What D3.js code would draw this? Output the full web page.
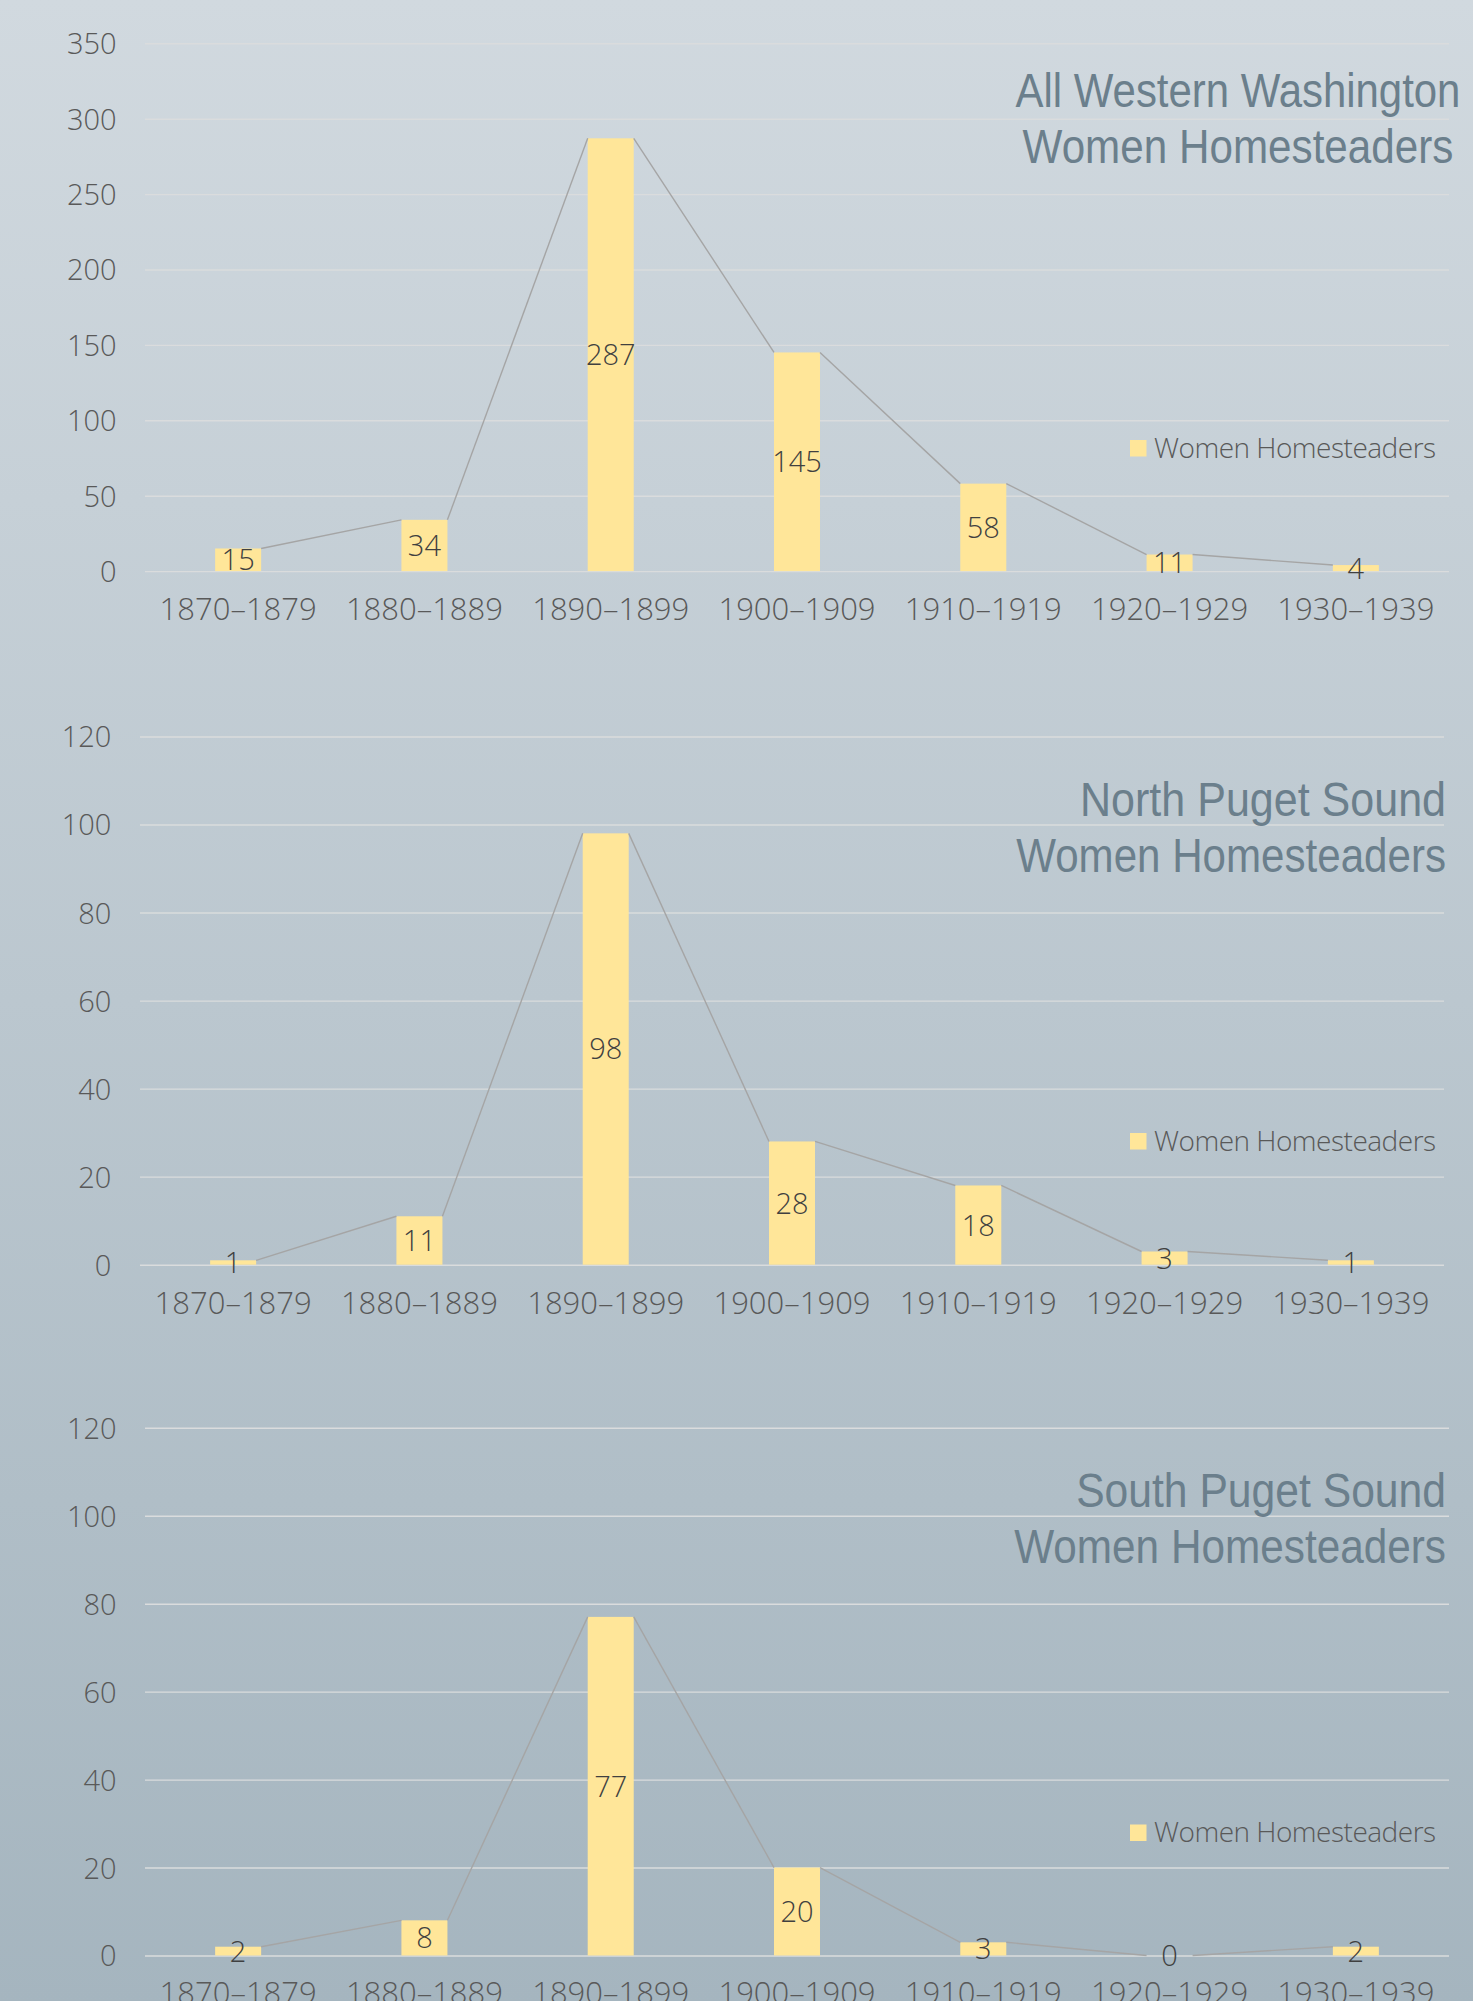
<!DOCTYPE html>
<html>
<head>
<meta charset="utf-8">
<script src="https://cdn.jsdelivr.net/npm/d3@7"></script>
<style>
  html, body { margin: 0; padding: 0; }
  body { width: 1473px; height: 2001px; overflow: hidden; }
  svg { display: block; }
</style>
</head>
<body>
<svg id="chart" width="1473" height="2001"></svg>
<script>
// ---- data ----
const categories = ["1870–1879", "1880–1889", "1890–1899", "1900–1909", "1910–1919", "1920–1929", "1930–1939"];
const allWesternValues = [15, 34, 287, 145, 58, 11, 4];
const northPugetValues = [1, 11, 98, 28, 18, 3, 1];
const southPugetValues = [2, 8, 77, 20, 3, 0, 2];
const allWesternTicks = [0, 50, 100, 150, 200, 250, 300, 350];
const northPugetTicks = [0, 20, 40, 60, 80, 100, 120];
const southPugetTicks = [0, 20, 40, 60, 80, 100, 120];
const allWesternTitle = ["All Western Washington", "Women Homesteaders"];
const northPugetTitle = ["North Puget Sound", "Women Homesteaders"];
const southPugetTitle = ["South Puget Sound", "Women Homesteaders"];
const seriesName = "Women Homesteaders";

// ---- layout ----
const panels = [
  { values: allWesternValues, ticks: allWesternTicks, title: allWesternTitle,
    x0: 145, x1: 1449, yBottom: 571.1, yTop: 43.3, tickRight: 116.6, catBase: 619.5,
    titleAnchor: "middle", titleX: 1238, titleBase: [107, 163], titleW: [445, 431],
    legY: 440, legBase: 458 },
  { values: northPugetValues, ticks: northPugetTicks, title: northPugetTitle,
    x0: 140, x1: 1444, yBottom: 1264.7, yTop: 736.5, tickRight: 111.4, catBase: 1313.6,
    titleAnchor: "end", titleX: 1446, titleBase: [816, 872], titleW: [366, 430],
    legY: 1133, legBase: 1151 },
  { values: southPugetValues, ticks: southPugetTicks, title: southPugetTitle,
    x0: 145, x1: 1449, yBottom: 1955.5, yTop: 1427.8, tickRight: 116.6, catBase: 2004,
    titleAnchor: "end", titleX: 1446, titleBase: [1507, 1563.4], titleW: [370, 432],
    legY: 1824.5, legBase: 1842 }
];

const FONT = "'Open Sans', 'Noto Sans', sans-serif";
const TITLE_FONT = "'Liberation Sans', Arial, sans-serif";
const svg = d3.select("#chart");

const defs = svg.append("defs");
const grad = defs.append("linearGradient").attr("id", "bg").attr("x1", 0).attr("y1", 0).attr("x2", 0).attr("y2", 1);
grad.append("stop").attr("offset", "0%").attr("stop-color", "#d1d9df");
grad.append("stop").attr("offset", "100%").attr("stop-color", "#a5b5bf");
svg.append("rect").attr("width", 1473).attr("height", 2001).attr("fill", "url(#bg)");

panels.forEach(p => {
  const g = svg.append("g");
  const x = d3.scaleBand().domain(categories).range([p.x0, p.x1]).paddingInner(0.753).paddingOuter(0.3765);
  const y = d3.scaleLinear().domain([0, d3.max(p.ticks)]).range([p.yBottom, p.yTop]);

  // gridlines + y labels via axis
  const yAxis = d3.axisLeft(y).tickValues(p.ticks).tickSize(-(p.x1 - p.x0)).tickPadding(p.x0 - p.tickRight);
  const ya = g.append("g").attr("transform", `translate(${p.x0},0)`).call(yAxis);
  ya.select(".domain").remove();
  ya.selectAll(".tick line").attr("stroke", "#dadcdd").attr("stroke-width", 1.4);
  ya.selectAll(".tick text").attr("fill", "#595959").style("font-family", FONT).style("font-weight", 300)
    .style("font-size", "29px").attr("dy", "0.36em");

  // x labels via axis
  const xAxis = d3.axisBottom(x).tickSize(0).tickPadding(0);
  const xa = g.append("g").attr("transform", `translate(0,${p.catBase})`).call(xAxis);
  xa.select(".domain").remove();
  xa.selectAll(".tick text").attr("fill", "#595959").attr("dy", 0).attr("y", 0)
    .style("font-family", FONT).style("font-weight", 300).style("font-size", "31px");

  // bars
  g.selectAll("rect.bar").data(p.values).join("rect").attr("class", "bar")
    .attr("x", (d, i) => x(categories[i]))
    .attr("y", d => y(d))
    .attr("width", x.bandwidth())
    .attr("height", d => y(0) - y(d))
    .attr("fill", "#ffe699");

  // series lines (top-right of bar i to top-left of bar i+1)
  const segs = d3.pairs(p.values.map((v, i) => ({ v, i })));
  g.selectAll("line.series").data(segs).join("line").attr("class", "series")
    .attr("x1", d => x(categories[d[0].i]) + x.bandwidth())
    .attr("y1", d => y(d[0].v))
    .attr("x2", d => x(categories[d[1].i]))
    .attr("y2", d => y(d[1].v))
    .attr("stroke", "#a5a5a5").attr("stroke-width", 1.4);

  // data labels centered in bars
  g.selectAll("text.val").data(p.values).join("text").attr("class", "val")
    .attr("x", (d, i) => x(categories[i]) + x.bandwidth() / 2)
    .attr("y", d => (y(d) + y(0)) / 2)
    .attr("dy", "0.36em")
    .attr("text-anchor", "middle")
    .attr("fill", "#404040")
    .style("font-family", FONT).style("font-weight", 300).style("font-size", "29px")
    .text(d => d);

  // title lines, condensed horizontally to match the narrow title face
  p.title.forEach((line, k) => {
    const tg = g.append("g");
    const t = tg.append("text")
      .attr("x", 0).attr("y", 0)
      .attr("text-anchor", p.titleAnchor)
      .attr("fill", "#6b7f8c")
      .style("font-family", TITLE_FONT).style("font-size", "48px")
      .text(line);
    const natural = t.node().getComputedTextLength();
    const sx = natural > 0 ? p.titleW[k] / natural : 1;
    tg.attr("transform", `translate(${p.titleX},${p.titleBase[k]}) scale(${sx},1)`);
  });

  // legend
  g.append("rect").attr("x", 1130).attr("y", p.legY).attr("width", 16.5).attr("height", 16.5).attr("fill", "#ffe699");
  g.append("text").attr("x", 1154).attr("y", p.legBase)
    .attr("fill", "#595959")
    .style("font-family", FONT).style("font-weight", 300).style("font-size", "28px")
    .style("letter-spacing", "-0.5px")
    .text(seriesName);
});
</script>
</body>
</html>
